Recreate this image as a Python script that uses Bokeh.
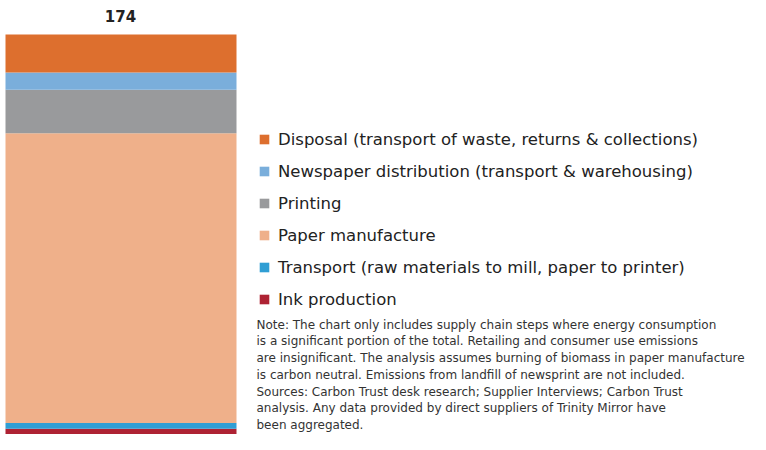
from bokeh.plotting import figure
from bokeh.models import Range1d, Legend, LegendItem, Label
from bokeh.embed import file_html
from bokeh.resources import INLINE

# ---- data (bottom to top of the stack) ----
stages = ["Ink production",
          "Transport (raw materials to mill, paper to printer)",
          "Paper manufacture",
          "Printing",
          "Newspaper distribution (transport & warehousing)",
          "Disposal (transport of waste, returns & collections)"]
values = [2.5, 2.5, 126.0, 19.0, 7.5, 16.5]
colors = ["#AE2233", "#2F9ED4", "#EFB08A", "#999A9C", "#7AAEDB", "#DD6F2E"]
note_lines = [
    "Note: The chart only includes supply chain steps where energy consumption",
    "is a significant portion of the total. Retailing and consumer use emissions",
    "are insignificant. The analysis assumes burning of biomass in paper manufacture",
    "is carbon neutral. Emissions from landfill of newsprint are not included.",
]
source_lines = [
    "Sources: Carbon Trust desk research; Supplier Interviews; Carbon Trust",
    "analysis. Any data provided by direct suppliers of Trinity Mirror have",
    "been aggregated.",
]

total = sum(values)
W, H = 750, 434
keys = [f"s{i}" for i in range(len(values))]
data = {"x": [120.5]}
for k, v in zip(keys, values):
    data[k] = [v]

p = figure(width=W, height=H, output_backend="svg", toolbar_location=None,
           x_range=Range1d(0, W), y_range=Range1d(0, total * H / 400.0),
           min_border=0, outline_line_color=None)
p.axis.visible = False
p.grid.visible = False
p.background_fill_color = "white"

rs = p.vbar_stack(keys, x="x", width=231, color=colors, source=data, line_color=None)

items = [LegendItem(label=stages[i], renderers=[rs[i]]) for i in reversed(range(len(values)))]
legend = Legend(items=items, location=(258, 125), orientation="vertical",
                glyph_width=12, glyph_height=12, label_standoff=8, spacing=12,
                padding=0, margin=0, border_line_color=None, background_fill_alpha=0,
                label_text_font="DejaVu Sans", label_text_font_size="16.5px",
                label_text_color="#222222", label_height=20)
p.add_layout(legend, "center")

p.add_layout(Label(x=120, y=H - 15, y_units="screen", text=f"{total:.0f}",
                   text_align="center", text_baseline="middle",
                   text_font="DejaVu Sans", text_font_style="bold",
                   text_font_size="15px", text_color="#222222"))

def add_lines(lines, y0, pitch):
    for i, t in enumerate(lines):
        p.add_layout(Label(x=256, y=H - (y0 + i * pitch), x_units="screen", y_units="screen",
                           text=t, text_align="left", text_baseline="middle",
                           text_font="DejaVu Sans", text_font_size="12px",
                           text_color="#333333"))

add_lines(note_lines, 324, 16.8)
add_lines(source_lines, 391, 16.5)

open("out.html", "w").write(file_html(p, INLINE))
